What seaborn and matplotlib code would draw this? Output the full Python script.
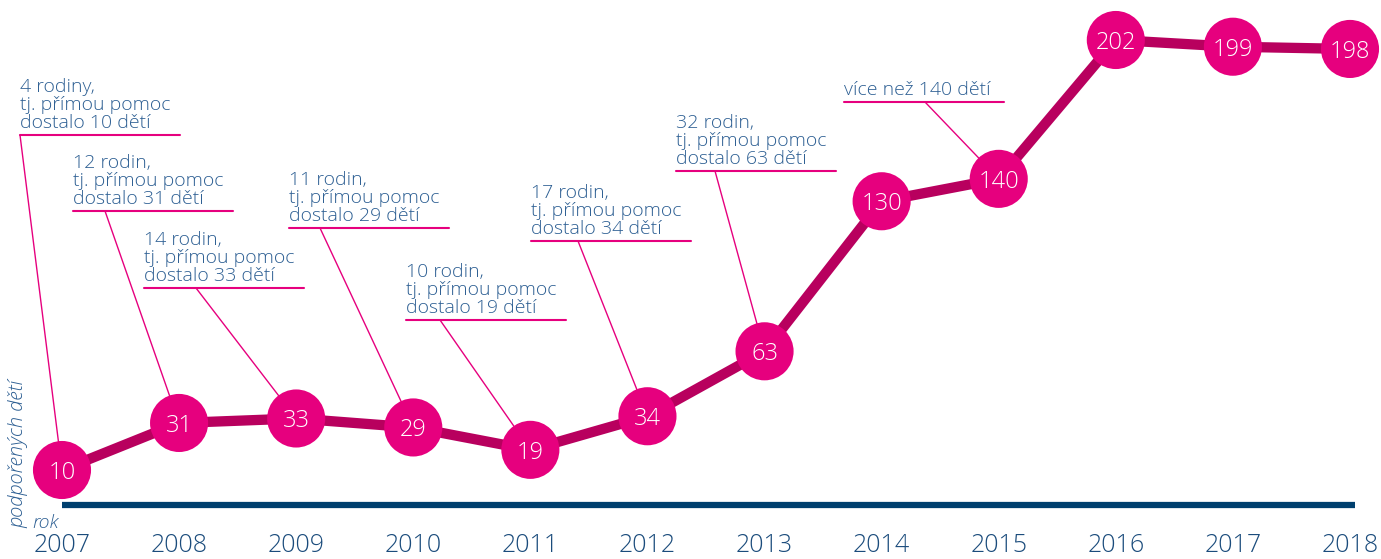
import matplotlib
matplotlib.use("Agg")
import matplotlib.pyplot as plt
import seaborn as sns
import pandas as pd
from matplotlib.transforms import blended_transform_factory

# ---- data ----
years = [2007, 2008, 2009, 2010, 2011, 2012, 2013, 2014, 2015, 2016, 2017, 2018]
children = [10, 31, 33, 29, 19, 34, 63, 130, 140, 202, 199, 198]
ann_years = [2007, 2008, 2009, 2010, 2011, 2012, 2013, 2015]
ann_texts = [
    "4 rodiny,\ntj. přímou pomoc\ndostalo 10 dětí",
    "12 rodin,\ntj. přímou pomoc\ndostalo 31 dětí",
    "14 rodin,\ntj. přímou pomoc\ndostalo 33 dětí",
    "11 rodin,\ntj. přímou pomoc\ndostalo 29 dětí",
    "10 rodin,\ntj. přímou pomoc\ndostalo 19 dětí",
    "17 rodin,\ntj. přímou pomoc\ndostalo 34 dětí",
    "32 rodin,\ntj. přímou pomoc\ndostalo 63 dětí",
    "více než 140 dětí",
]
y_label = "podpořených dětí"
x_label = "rok"

df = pd.DataFrame({"idx": range(len(years)), "year": years, "n": children})

# ---- style ----
sns.set_style("white")
plt.rcParams["font.family"] = ["Open Sans", "DejaVu Sans"]

W, H = 1381, 559
fig = plt.figure(figsize=(W / 100, H / 100), dpi=100)
ax = fig.add_axes([0, 0, 1, 1])

PINK = "#e6007e"
LINE = "#b8005e"
TXT = "#2d5f93"
NAVY = "#003f6e"
YEARC = "#1b4c7c"
WT = "light"

x0px, xstep = 62, (1350 - 62) / 11
y_at470, ppu = 10, (470 - 40) / 192
ax.set_xlim(-x0px / xstep, (W - x0px) / xstep)
ax.set_ylim(y_at470 - (H - 470) / ppu, y_at470 + 470 / ppu)
ax.axis("off")

def P(x, y):
    """pixel -> axes fraction"""
    return x / W, 1 - y / H

sns.lineplot(data=df, x="idx", y="n", ax=ax, color=LINE, linewidth=7.4,
             zorder=2, legend=False)
sns.scatterplot(data=df, x="idx", y="n", ax=ax, color=PINK, s=1750,
                edgecolor="none", zorder=4, legend=False)
for i, v in zip(df["idx"], df["n"]):
    ax.text(i, v, str(v), color="white", fontsize=17, ha="center",
            va="center_baseline", zorder=5, fontweight=WT)

ax.plot([P(62, 0)[0], P(1355, 0)[0]], [P(0, 505)[1]] * 2, transform=ax.transAxes,
        color=NAVY, linewidth=4.5, solid_capstyle="butt", zorder=1)

bt = blended_transform_factory(ax.transData, ax.transAxes)
for i, yr in enumerate(years):
    ax.text(i, P(0, 545)[1], str(yr), transform=bt, ha="center", va="center",
            color=YEARC, fontsize=18, fontweight=WT)

ax.text(*P(32, 523), x_label, transform=ax.transAxes, ha="left", va="center",
        color=TXT, fontsize=14, style="italic", fontweight=WT)
ax.text(*P(18, 528), y_label, transform=ax.transAxes, ha="center", va="bottom",
        rotation=90, color=TXT, fontsize=14.5, style="italic", fontweight=WT)

layout = [(20, 135, 20), (73, 211, 105), (144, 288, 196), (289, 228, 320),
          (406, 320, 440), (531, 241, 578), (676, 171, 715), (844, 102, 925)]
for yr, txt, (lx, uy, sx) in zip(ann_years, ann_texts, layout):
    i = years.index(yr)
    v = children[i]
    ax.text(*P(lx, uy - 3), txt, transform=ax.transAxes, ha="left", va="bottom",
            color=TXT, fontsize=14, linespacing=1.0, zorder=3, fontweight=WT)
    ax.plot([P(lx, 0)[0], P(lx + 160, 0)[0]], [P(0, uy)[1]] * 2,
            transform=ax.transAxes, color=PINK, linewidth=1.5, zorder=3)
    ax.annotate("", xy=(i, v), xycoords="data", xytext=P(sx, uy),
                textcoords="axes fraction",
                arrowprops=dict(arrowstyle="-", color=PINK, lw=1.0,
                                shrinkA=0, shrinkB=0), zorder=3)

fig.savefig("out.png", dpi=100)
